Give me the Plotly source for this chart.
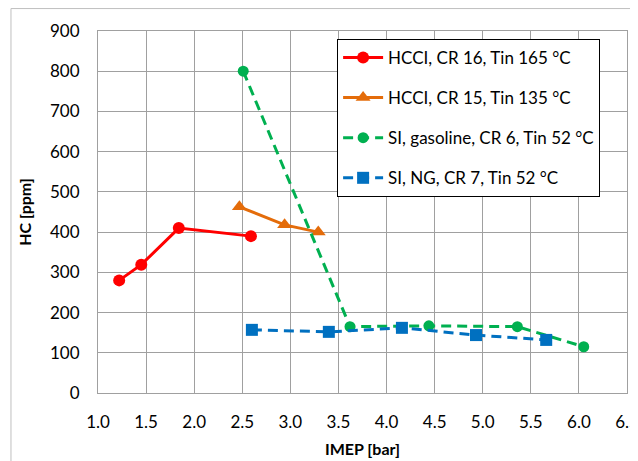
import plotly.graph_objects as go

# Data
hcci16_x = [1.22, 1.45, 1.84, 2.59]
hcci16_y = [280, 319, 410, 390]
hcci15_x = [2.47, 2.94, 3.29]
hcci15_y = [463, 418, 400]
si_gas_x = [2.51, 3.62, 4.44, 5.36, 6.05]
si_gas_y = [800, 165, 167, 165, 115]
si_ng_x = [2.60, 3.40, 4.16, 4.93, 5.66]
si_ng_y = [157, 152, 162, 144, 132]

names = ["HCCI, CR 16, Tin 165 °C", "HCCI, CR 15, Tin 135 °C",
         "SI, gasoline, CR 6, Tin 52 °C", "SI, NG, CR 7, Tin 52 °C"]

x_ticks = [1.0, 1.5, 2.0, 2.5, 3.0, 3.5, 4.0, 4.5, 5.0, 5.5, 6.0, 6.5]
y_ticks = [0, 100, 200, 300, 400, 500, 600, 700, 800, 900]

FONT = "Lato, Carlito, Calibri, sans-serif"

fig = go.Figure()
fig.add_trace(go.Scatter(x=hcci16_x, y=hcci16_y, name=names[0], legendgroup="a",
                         mode="lines+markers",
                         line=dict(color="#FF0000", width=3),
                         marker=dict(symbol="circle", size=12, color="#FF0000")))
fig.add_trace(go.Scatter(x=hcci15_x, y=hcci15_y, name=names[1], legendgroup="b",
                         mode="lines+markers",
                         line=dict(color="#E46C0A", width=3),
                         marker=dict(symbol="triangle-up", size=13, color="#E46C0A")))
fig.add_trace(go.Scatter(x=si_gas_x, y=si_gas_y, name=names[2], legendgroup="c",
                         mode="lines+markers",
                         line=dict(color="#00B050", width=3, dash="10px,6px"),
                         marker=dict(symbol="circle", size=11, color="#00B050")))
fig.add_trace(go.Scatter(x=si_ng_x, y=si_ng_y, name=names[3], legendgroup="d",
                         mode="lines+markers",
                         line=dict(color="#0070C0", width=3, dash="10px,6px"),
                         marker=dict(symbol="square", size=12, color="#0070C0")))

grid = "#A0A0A0"
fig.update_layout(
    width=638, height=461,
    margin=dict(l=90, r=19, t=23, b=76, autoexpand=False),
    paper_bgcolor="white", plot_bgcolor="white",
    font=dict(family=FONT, size=17, color="#000000"),
    showlegend=True,
    legend=dict(x=0.452, y=0.978, xanchor="left", yanchor="top",
                bgcolor="white", bordercolor="#000000", borderwidth=1,
                font=dict(family=FONT, size=17), tracegroupgap=15,
                itemwidth=40),
    xaxis=dict(range=[1.0, 6.5], tickvals=x_ticks,
               ticktext=[f"{v:.1f}" for v in x_ticks],
               showgrid=True, gridcolor=grid, gridwidth=1,
               showline=True, linecolor=grid, linewidth=1, mirror=True,
               zeroline=False, ticks="", ticklabelstandoff=14, automargin=False,
               ticklabeloverflow="allow",
               title=dict(text="<b>IMEP [bar]</b>", font=dict(size=16), standoff=12)),
    yaxis=dict(range=[0, 900], tickvals=y_ticks,
               showgrid=True, gridcolor=grid, gridwidth=1,
               showline=True, linecolor=grid, linewidth=1, mirror=True,
               zeroline=False, ticks="", ticklabelstandoff=14, automargin=False,
               title=dict(text="<b>HC [ppm]</b>", font=dict(size=16), standoff=14)),
)

# outer chart-area border (Excel style)
fig.add_shape(type="rect", xref="paper", yref="paper",
              x0=-0.1645, y0=-0.4, x1=1.1, y1=1.062,
              line=dict(color="#BFBFBF", width=1), fillcolor="rgba(0,0,0,0)",
              layer="above")

fig.write_html("out.html")
